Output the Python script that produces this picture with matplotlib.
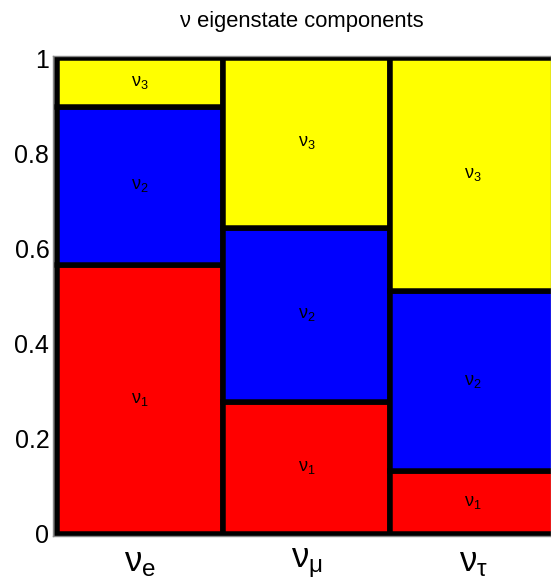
import matplotlib
matplotlib.use("Agg")
import matplotlib.pyplot as plt
import numpy as np

plt.rcParams['font.family'] = ['Liberation Sans', 'DejaVu Sans']
plt.rcParams['mathtext.fontset'] = 'custom'
plt.rcParams['mathtext.rm'] = 'Liberation Sans'
plt.rcParams['mathtext.it'] = 'Liberation Sans'

# Data
flavors = [r'$\mathrm{ν}_\mathrm{e}$', r'$\mathrm{ν}_\mathrm{μ}$', r'$\mathrm{ν}_\mathrm{τ}$']
components = ['ν1', 'ν2', 'ν3']
comp_labels = [r'$\mathrm{ν}_\mathrm{1}$', r'$\mathrm{ν}_\mathrm{2}$', r'$\mathrm{ν}_\mathrm{3}$']
nu1 = [0.566, 0.277, 0.131]
nu2 = [0.331, 0.367, 0.379]
nu3 = [0.103, 0.356, 0.490]
colors = ['#ff0000', '#0000ff', '#ffff00']
yticks = [0, 0.2, 0.4, 0.6, 0.8, 1]
yticklabels = ['0', '0.2', '0.4', '0.6', '0.8', '1']
title = 'ν eigenstate components'

W, H = 551, 579
fig = plt.figure(figsize=(W / 100, H / 100), dpi=100)
left, right, top, bottom = 53.5, 551, 56, 536
ax = fig.add_axes([left / W, 1 - bottom / H, (right - left) / W, (bottom - top) / H])

x = np.arange(len(flavors))
base = np.zeros(len(flavors))
for vals, col, lab in zip([nu1, nu2, nu3], colors, comp_labels):
    vals = np.array(vals)
    ax.bar(x, vals, width=1.0, bottom=base, align='edge', color=col,
           edgecolor='black', linewidth=3.96, zorder=2)
    for xi, b, v in zip(x, base, vals):
        ax.text(xi + 0.5, b + v / 2, lab, ha='center', va='center',
                fontsize=13, zorder=3)
    base = base + vals

ax.set_xlim(-0.021, 2.967)
ax.set_ylim(-0.005, 1.005)
ax.set_yticks(yticks)
ax.set_yticklabels(yticklabels, fontsize=18)
ax.set_xticks(x + 0.5)
ax.set_xticklabels(flavors, fontsize=25)
ax.tick_params(axis='both', length=0)
ax.tick_params(axis='y', pad=3)
ax.tick_params(axis='x', pad=7)
for s in ax.spines.values():
    s.set_color('#888888')
    s.set_linewidth(1)
ax.set_title(title, fontsize=15.8, pad=21)

fig.savefig('out.png', dpi=100)
